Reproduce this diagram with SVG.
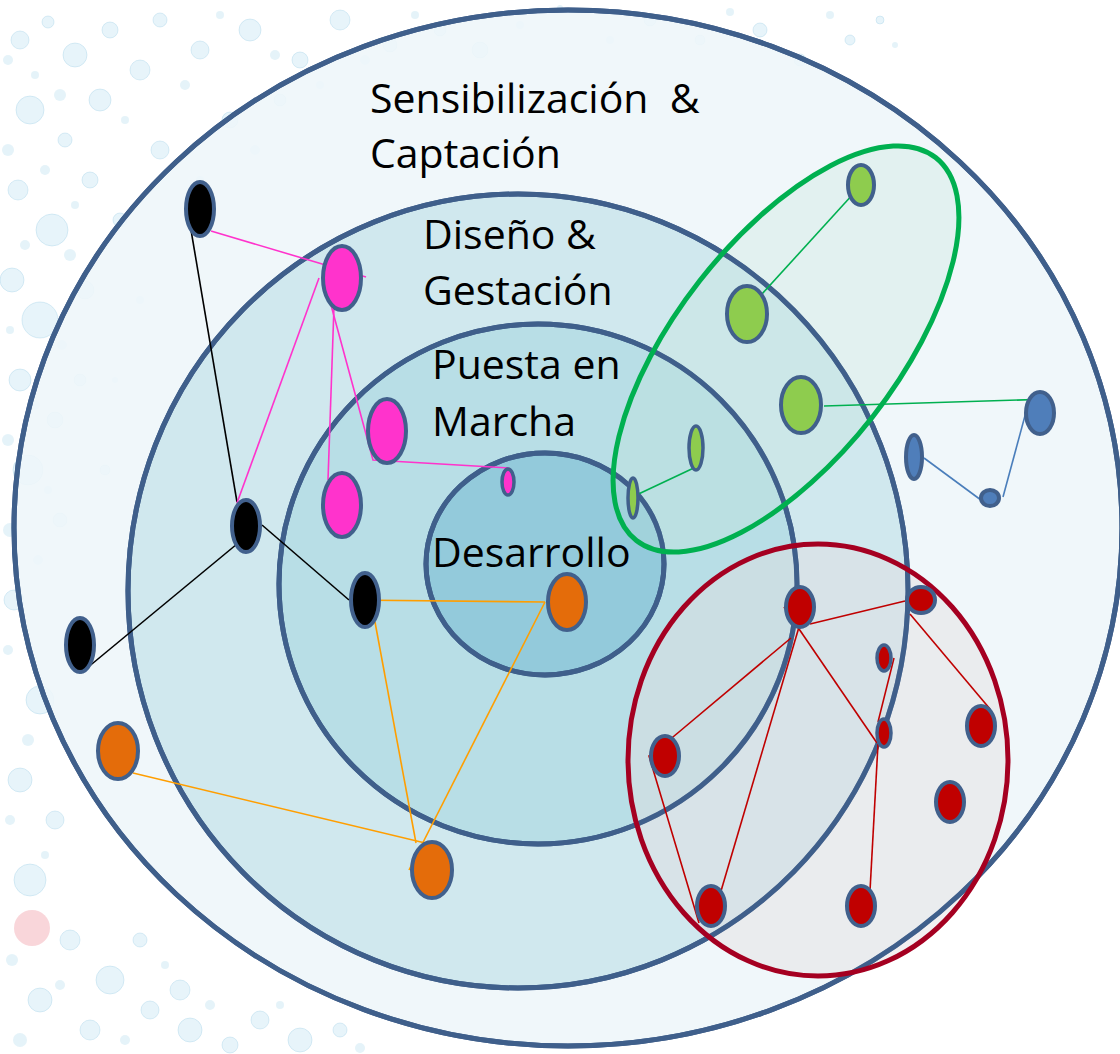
<svg xmlns="http://www.w3.org/2000/svg" width="1120" height="1054" viewBox="0 0 1120 1054">
<style>
.ring{stroke:#3F5F8B;stroke-width:5}
.rs{fill:none;stroke:#3F5F8B;stroke-width:5}
.lbl{font-family:"Open Sans","Liberation Sans",sans-serif;font-size:41px;fill:#000}
.nd{stroke:#41608C;stroke-width:4}
.blk{fill:#000}.mag{fill:#FF33CC}.grn{fill:#8ECC4E}.blu{fill:#4F7EBA}.org{fill:#E46C0A}.red{fill:#C00000}
.bub{fill:#A9D8EC;fill-opacity:0.28;stroke:#8EC6E0;stroke-opacity:0.3;stroke-width:1}
.sb{fill:#B5DDEE;fill-opacity:0.35}
.ln{fill:none;stroke-width:1.6}
</style>
<rect width="1120" height="1054" fill="#FFFFFF"/>
<g id="texture">
<circle class="bub" cx="20" cy="40" r="9"/><circle class="bub" cx="48" cy="22" r="6"/><circle class="bub" cx="75" cy="55" r="12"/><circle class="bub" cx="110" cy="30" r="8"/><circle class="bub" cx="140" cy="70" r="10"/><circle class="bub" cx="30" cy="110" r="14"/><circle class="bub" cx="65" cy="140" r="7"/><circle class="bub" cx="100" cy="100" r="11"/><circle class="bub" cx="18" cy="190" r="10"/><circle class="bub" cx="52" cy="230" r="16"/><circle class="bub" cx="90" cy="180" r="8"/><circle class="bub" cx="12" cy="280" r="12"/><circle class="bub" cx="40" cy="320" r="18"/><circle class="bub" cx="85" cy="290" r="9"/><circle class="bub" cx="20" cy="380" r="11"/><circle class="bub" cx="55" cy="420" r="8"/><circle class="bub" cx="28" cy="470" r="15"/><circle class="bub" cx="60" cy="520" r="7"/><circle class="bub" cx="14" cy="600" r="10"/><circle class="bub" cx="40" cy="700" r="14"/><circle class="bub" cx="20" cy="780" r="12"/><circle class="bub" cx="55" cy="820" r="9"/><circle class="bub" cx="30" cy="880" r="16"/><circle class="bub" cx="70" cy="940" r="10"/><circle class="bub" cx="110" cy="980" r="14"/><circle class="bub" cx="150" cy="1010" r="9"/><circle class="bub" cx="190" cy="1030" r="12"/><circle class="bub" cx="230" cy="1045" r="8"/><circle class="bub" cx="90" cy="1030" r="10"/><circle class="bub" cx="40" cy="1000" r="12"/><circle class="bub" cx="140" cy="940" r="7"/><circle class="bub" cx="180" cy="990" r="10"/><circle class="bub" cx="260" cy="1020" r="9"/><circle class="bub" cx="300" cy="1040" r="12"/><circle class="bub" cx="340" cy="1030" r="7"/><circle class="bub" cx="160" cy="20" r="7"/><circle class="bub" cx="200" cy="50" r="9"/><circle class="bub" cx="250" cy="30" r="11"/><circle class="bub" cx="300" cy="60" r="8"/><circle class="bub" cx="340" cy="20" r="10"/><circle class="bub" cx="390" cy="45" r="7"/><circle class="bub" cx="440" cy="30" r="6"/><circle class="bub" cx="480" cy="50" r="8"/><circle class="bub" cx="650" cy="20" r="6"/><circle class="bub" cx="700" cy="40" r="5"/><circle class="bub" cx="760" cy="30" r="7"/><circle class="bub" cx="800" cy="60" r="6"/><circle class="bub" cx="850" cy="40" r="5"/><circle class="bub" cx="880" cy="20" r="4"/><circle class="bub" cx="230" cy="120" r="8"/><circle class="bub" cx="280" cy="100" r="6"/><circle class="bub" cx="160" cy="150" r="9"/><circle class="bub" cx="120" cy="220" r="7"/><circle class="bub" cx="80" cy="380" r="6"/><circle class="bub" cx="105" cy="470" r="5"/>
<circle class="sb" cx="8" cy="60" r="5"/><circle class="sb" cx="35" cy="75" r="4"/><circle class="sb" cx="60" cy="95" r="6"/><circle class="sb" cx="125" cy="120" r="4"/><circle class="sb" cx="8" cy="150" r="6"/><circle class="sb" cx="45" cy="170" r="5"/><circle class="sb" cx="75" cy="205" r="4"/><circle class="sb" cx="25" cy="245" r="5"/><circle class="sb" cx="70" cy="255" r="6"/><circle class="sb" cx="10" cy="330" r="4"/><circle class="sb" cx="62" cy="345" r="5"/><circle class="sb" cx="35" cy="405" r="5"/><circle class="sb" cx="8" cy="440" r="6"/><circle class="sb" cx="48" cy="490" r="4"/><circle class="sb" cx="10" cy="530" r="7"/><circle class="sb" cx="38" cy="560" r="5"/><circle class="sb" cx="8" cy="650" r="5"/><circle class="sb" cx="28" cy="740" r="6"/><circle class="sb" cx="10" cy="820" r="5"/><circle class="sb" cx="45" cy="855" r="4"/><circle class="sb" cx="12" cy="960" r="6"/><circle class="sb" cx="60" cy="985" r="5"/><circle class="sb" cx="20" cy="1040" r="7"/><circle class="sb" cx="125" cy="1040" r="5"/><circle class="sb" cx="165" cy="965" r="4"/><circle class="sb" cx="210" cy="1005" r="5"/><circle class="sb" cx="280" cy="1005" r="4"/><circle class="sb" cx="360" cy="1048" r="5"/><circle class="sb" cx="185" cy="85" r="5"/><circle class="sb" cx="220" cy="15" r="4"/><circle class="sb" cx="275" cy="55" r="5"/><circle class="sb" cx="320" cy="85" r="4"/><circle class="sb" cx="365" cy="60" r="5"/><circle class="sb" cx="415" cy="15" r="4"/><circle class="sb" cx="520" cy="25" r="4"/><circle class="sb" cx="560" cy="8" r="3"/><circle class="sb" cx="610" cy="40" r="4"/><circle class="sb" cx="730" cy="12" r="4"/><circle class="sb" cx="780" cy="50" r="3"/><circle class="sb" cx="830" cy="15" r="4"/><circle class="sb" cx="895" cy="45" r="3"/><circle class="sb" cx="200" cy="180" r="4"/><circle class="sb" cx="255" cy="150" r="5"/><circle class="sb" cx="140" cy="300" r="4"/><circle class="sb" cx="115" cy="380" r="3"/>
<circle cx="32" cy="928" r="18" fill="#F4B5BC" fill-opacity="0.55"/>
</g>
<g id="rings">
<ellipse id="ring-sensibilizacion" class="ring" cx="568" cy="528" rx="554" ry="518" fill="#EEF6F9" fill-opacity="0.88"/>
<ellipse id="ring-diseno" class="ring" cx="518" cy="591" rx="390" ry="397" fill="#D0E8EE"/>
<ellipse id="ring-puesta" class="ring" cx="538" cy="584" rx="259" ry="260" fill="#B8DEE6"/>
<ellipse id="ring-desarrollo" class="ring" cx="545" cy="564" rx="119" ry="111" fill="#93CADB"/>
</g>
<g id="labels">
<text class="lbl" x="370" y="113" xml:space="preserve">Sensibilización  &amp;</text>
<text class="lbl" x="370" y="168">Captación</text>
<text class="lbl" x="423" y="249">Diseño &amp;</text>
<text class="lbl" x="423" y="305">Gestación</text>
<text class="lbl" x="432" y="379">Puesta en</text>
<text class="lbl" x="432" y="436">Marcha</text>
<text class="lbl" x="432" y="567">Desarrollo</text>
</g>
<g id="cluster-fills">
<ellipse cx="786" cy="349" rx="243" ry="110" transform="rotate(-52 786 349)" fill="#C3E6D9" fill-opacity="0.3"/>
<ellipse cx="818" cy="760" rx="190" ry="216" fill="#E3DDE0" fill-opacity="0.45"/>
</g>
<g id="ring-lines">
<ellipse class="rs" cx="518" cy="591" rx="390" ry="397"/>
<ellipse class="rs" cx="538" cy="584" rx="259" ry="260"/>
<ellipse class="rs" cx="545" cy="564" rx="119" ry="111"/>
<ellipse class="rs" cx="568" cy="528" rx="554" ry="518"/>
</g>
<g id="clusters">
<ellipse id="cluster-green" cx="786" cy="349" rx="243" ry="110" transform="rotate(-52 786 349)" fill="none" stroke="#00B050" stroke-width="5"/>
<ellipse id="cluster-red" cx="818" cy="760" rx="190" ry="216" fill="none" stroke="#A50021" stroke-width="5"/>
</g>
<g id="connectors">
<line class="ln" stroke="#000" x1="191" y1="230" x2="237" y2="502"/>
<line class="ln" stroke="#000" x1="237" y1="544" x2="81" y2="673"/>
<line class="ln" stroke="#000" x1="262" y1="525" x2="349" y2="600"/>
<line class="ln" stroke="#FF33CC" x1="211" y1="231" x2="366" y2="277"/>
<line class="ln" stroke="#FF33CC" x1="319" y1="278" x2="237" y2="503"/>
<line class="ln" stroke="#FF33CC" x1="334" y1="306" x2="328" y2="480"/>
<polyline class="ln" stroke="#FF33CC" points="328,294 373,460 509,468"/>
<line class="ln" stroke="#FF9E00" x1="349" y1="600" x2="545" y2="602"/>
<line class="ln" stroke="#FF9E00" x1="375" y1="622" x2="416" y2="843"/>
<line class="ln" stroke="#FF9E00" x1="545" y1="602" x2="409" y2="870"/>
<line class="ln" stroke="#FF9E00" x1="133" y1="773" x2="446" y2="848"/>
<line class="ln" stroke="#00B050" x1="854" y1="193" x2="762" y2="294"/>
<line class="ln" stroke="#00B050" x1="824" y1="406" x2="1051" y2="399"/>
<line class="ln" stroke="#00B050" x1="698" y1="466" x2="630" y2="498"/>
<line class="ln" stroke="#4A7EBB" x1="924" y1="458" x2="985" y2="503"/>
<line class="ln" stroke="#4A7EBB" x1="1003" y1="497" x2="1026" y2="412"/>
<line class="ln" stroke="#C00000" x1="810" y1="624" x2="905" y2="601"/>
<line class="ln" stroke="#C00000" x1="791" y1="638" x2="667" y2="742"/>
<polyline class="ln" stroke="#C00000" points="654,754 649,756 699,923"/>
<line class="ln" stroke="#C00000" x1="799" y1="627" x2="721" y2="891"/>
<line class="ln" stroke="#C00000" x1="784" y1="607" x2="877" y2="743"/>
<line class="ln" stroke="#C00000" x1="878" y1="722" x2="894" y2="658"/>
<line class="ln" stroke="#C00000" x1="878" y1="744" x2="870" y2="891"/>
<line class="ln" stroke="#C00000" x1="910" y1="614" x2="990" y2="709"/>
</g>
<g id="nodes">
<ellipse id="b1" class="nd blk" cx="200" cy="209" rx="14" ry="27"/>
<ellipse id="b2" class="nd blk" cx="246" cy="526" rx="14" ry="26"/>
<ellipse id="b3" class="nd blk" cx="365" cy="600" rx="14" ry="27"/>
<ellipse id="b4" class="nd blk" cx="80" cy="645" rx="14" ry="27"/>
<ellipse id="m1" class="nd mag" cx="342" cy="278" rx="19" ry="32"/>
<ellipse id="m2" class="nd mag" cx="387" cy="431" rx="19" ry="32"/>
<ellipse id="m3" class="nd mag" cx="342" cy="505" rx="19" ry="32"/>
<ellipse id="m4" class="nd mag" cx="508" cy="482" rx="6" ry="13" style="stroke-width:3.5"/>
<ellipse id="g1" class="nd grn" cx="861" cy="185" rx="13" ry="20"/>
<ellipse id="g2" class="nd grn" cx="747" cy="314" rx="20" ry="28"/>
<ellipse id="g3" class="nd grn" cx="801" cy="405" rx="20" ry="28"/>
<ellipse id="g4" class="nd grn" cx="696" cy="448" rx="7" ry="22" style="stroke-width:3.5"/>
<ellipse id="g5" class="nd grn" cx="633" cy="498" rx="5" ry="20" style="stroke-width:3.5"/>
<ellipse id="bl1" class="nd blu" cx="1040" cy="413" rx="14" ry="21"/>
<ellipse id="bl2" class="nd blu" cx="914" cy="457" rx="8" ry="22"/>
<ellipse id="bl3" class="nd blu" cx="990" cy="498" rx="9" ry="8"/>
<ellipse id="o1" class="nd org" cx="567" cy="602" rx="19" ry="28"/>
<ellipse id="o2" class="nd org" cx="118" cy="751" rx="20" ry="28"/>
<ellipse id="o3" class="nd org" cx="432" cy="870" rx="20" ry="28"/>
<ellipse id="r1" class="nd red" cx="800" cy="607" rx="14" ry="20"/>
<ellipse id="r2" class="nd red" cx="921" cy="600" rx="14" ry="13"/>
<ellipse id="r3" class="nd red" cx="884" cy="658" rx="7" ry="13" style="stroke-width:3.5"/>
<ellipse id="r4" class="nd red" cx="884" cy="733" rx="7" ry="14" style="stroke-width:3.5"/>
<ellipse id="r5" class="nd red" cx="665" cy="756" rx="14" ry="20"/>
<ellipse id="r6" class="nd red" cx="981" cy="726" rx="14" ry="20"/>
<ellipse id="r7" class="nd red" cx="950" cy="802" rx="14" ry="20"/>
<ellipse id="r8" class="nd red" cx="711" cy="906" rx="14" ry="20"/>
<ellipse id="r9" class="nd red" cx="861" cy="906" rx="14" ry="20"/>
</g>
</svg>
